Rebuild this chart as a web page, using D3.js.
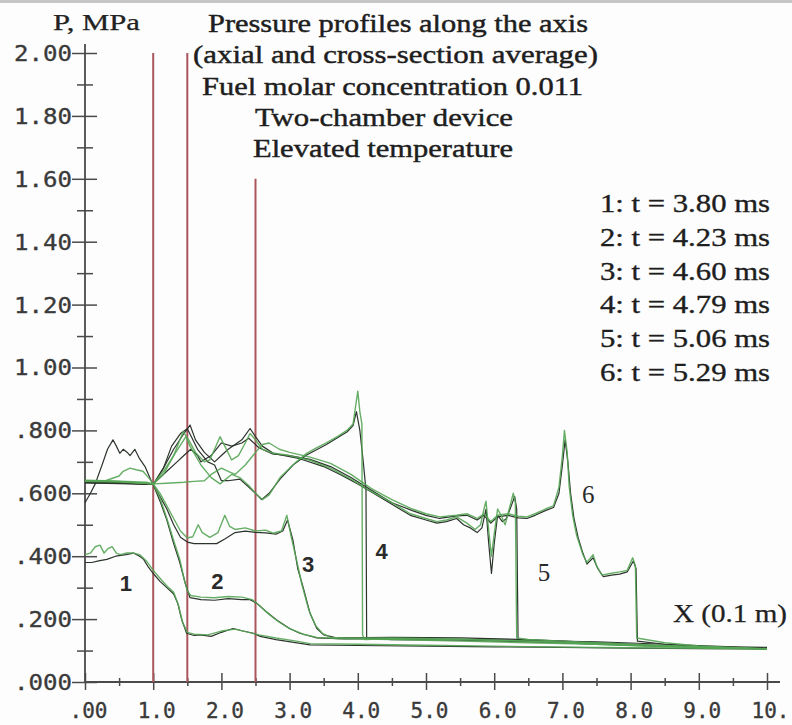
<!DOCTYPE html>
<html>
<head>
<meta charset="utf-8">
<script src="https://cdn.jsdelivr.net/npm/d3@7"></script>
<style>
  html, body { margin: 0; padding: 0; background: #fff; }
  svg { display: block; }
</style>
</head>
<body>
<svg id="chart" width="792" height="725"></svg>
<script>
// ---------- DATA ----------
const yMajor = [0, 0.2, 0.4, 0.6, 0.8, 1.0, 1.2, 1.4, 1.6, 1.8, 2.0];
const yLabels = [".000", ".200", ".400", ".600", ".800", "1.00", "1.20", "1.40", "1.60", "1.80", "2.00"];
const yMinor = [0.1, 0.3, 0.5, 0.7, 0.9, 1.1, 1.3, 1.5, 1.7, 1.9];
const xMajor = [0, 1, 2, 3, 4, 5, 6, 7, 8, 9, 10];
const xLabels = [".00", "1.0", "2.0", "3.0", "4.0", "5.0", "6.0", "7.0", "8.0", "9.0", "10."];
const xMinor = [0.5, 1.5, 2.5, 3.5, 4.5, 5.5, 6.5, 7.5, 8.5, 9.5];

const redX = [1.0, 1.5, 2.5];
const redTop = [2.0, 2.0, 1.6];

const titleLines = [
  "Pressure profiles along the axis",
  "(axial and cross-section average)",
  "Fuel molar concentration 0.011",
  "Two-chamber device",
  "Elevated temperature"
];
const legendLines = [
  "1: t = 3.80 ms",
  "2: t = 4.23 ms",
  "3: t = 4.60 ms",
  "4: t = 4.79 ms",
  "5: t = 5.06 ms",
  "6: t = 5.29 ms"
];
const curveNames = ["1", "2", "3", "4", "5", "6"];
const curveLabelPos = [[0.6, 0.29], [1.94, 0.295], [3.27, 0.35], [4.35, 0.39], [6.73, 0.32], [7.38, 0.57]];

// curve k, axial (green) and cross-section average (dark): [X, P]
const c1Axial = [[0,0.405],[0.08,0.41],[0.15,0.43],[0.22,0.435],[0.28,0.41],[0.34,0.425],[0.4,0.43],[0.46,0.41],[0.52,0.405],[0.6,0.41],[0.7,0.41],[0.8,0.405],[0.9,0.385],[1.0,0.355],[1.1,0.33],[1.2,0.305],[1.3,0.285],[1.37,0.245],[1.43,0.19],[1.5,0.158],[1.6,0.152],[1.8,0.15],[2.0,0.162],[2.2,0.168],[2.4,0.158],[2.55,0.15],[2.8,0.14],[3.1,0.13],[3.3,0.122],[4.0,0.12],[5.0,0.117],[6.0,0.114],[7.0,0.111],[8.0,0.109],[9.0,0.107],[10.0,0.105]];
const c1Avg = [[0,0.38],[0.1,0.38],[0.2,0.385],[0.32,0.39],[0.45,0.4],[0.6,0.405],[0.71,0.41],[0.8,0.4],[0.86,0.39],[0.93,0.365],[1.0,0.345],[1.1,0.32],[1.2,0.3],[1.3,0.28],[1.36,0.25],[1.42,0.197],[1.49,0.155],[1.6,0.148],[1.69,0.15],[1.85,0.145],[2.0,0.158],[2.17,0.17],[2.3,0.163],[2.47,0.155],[2.57,0.145],[2.8,0.135],[3.3,0.118],[4.0,0.116],[5.0,0.114],[6.0,0.112],[7.0,0.11],[8.0,0.108],[9.0,0.106],[10.0,0.105]];

const c2Axial = [[0,0.642],[0.3,0.64],[0.6,0.638],[0.9,0.635],[1.0,0.63],[1.1,0.585],[1.2,0.52],[1.3,0.45],[1.39,0.39],[1.45,0.33],[1.5,0.29],[1.55,0.275],[1.7,0.27],[1.9,0.268],[2.1,0.272],[2.3,0.27],[2.45,0.262],[2.55,0.245],[2.7,0.215],[2.85,0.19],[3.0,0.17],[3.2,0.152],[3.4,0.142],[3.7,0.138],[4.5,0.135],[5.5,0.13],[6.5,0.125],[7.5,0.12],[8.5,0.113],[9.5,0.108],[10,0.106]];
const c2Avg = [[0,0.635],[0.3,0.633],[0.6,0.632],[0.9,0.63],[1.0,0.628],[1.1,0.575],[1.2,0.515],[1.3,0.44],[1.39,0.38],[1.47,0.314],[1.54,0.268],[1.7,0.262],[1.9,0.26],[2.1,0.265],[2.3,0.262],[2.42,0.262],[2.52,0.25],[2.65,0.225],[2.81,0.197],[3.0,0.17],[3.15,0.155],[3.4,0.14],[3.8,0.137],[4.5,0.138],[5.5,0.136],[6.5,0.132],[7.5,0.128],[8.5,0.12],[9.5,0.112],[10,0.11]];

const c3Axial = [[0,0.64],[0.5,0.638],[1.0,0.63],[1.1,0.6],[1.2,0.56],[1.3,0.52],[1.4,0.48],[1.5,0.458],[1.58,0.462],[1.66,0.5],[1.72,0.475],[1.83,0.46],[1.95,0.475],[2.05,0.53],[2.12,0.495],[2.2,0.485],[2.35,0.49],[2.5,0.48],[2.65,0.483],[2.76,0.473],[2.88,0.48],[2.96,0.53],[3.03,0.455],[3.1,0.39],[3.18,0.31],[3.28,0.23],[3.38,0.18],[3.48,0.155],[3.6,0.142],[3.8,0.14],[4.5,0.14],[5.5,0.136],[6.5,0.13],[7.5,0.12],[8.5,0.112],[9.5,0.107],[10,0.105]];
const c3Avg = [[0,0.633],[0.5,0.631],[1.0,0.628],[1.1,0.59],[1.2,0.55],[1.3,0.5],[1.4,0.46],[1.5,0.445],[1.6,0.44],[1.75,0.44],[1.93,0.44],[2.05,0.455],[2.2,0.475],[2.35,0.48],[2.5,0.476],[2.65,0.474],[2.8,0.47],[2.9,0.48],[2.97,0.515],[3.05,0.45],[3.12,0.36],[3.2,0.3],[3.3,0.218],[3.4,0.17],[3.5,0.15],[3.7,0.14],[4.5,0.142],[5.5,0.14],[6.5,0.135],[7.5,0.125],[8.5,0.115],[9.5,0.11],[10,0.108]];

const c4Axial = [[0,0.64],[0.5,0.637],[1.0,0.63],[1.15,0.67],[1.3,0.72],[1.48,0.78],[1.54,0.75],[1.7,0.69],[1.85,0.65],[1.98,0.63],[2.15,0.66],[2.27,0.65],[2.4,0.625],[2.5,0.6],[2.6,0.58],[2.7,0.595],[2.86,0.65],[3.0,0.68],[3.1,0.7],[3.25,0.727],[3.4,0.745],[3.54,0.76],[3.7,0.78],[3.84,0.80],[3.93,0.82],[3.97,0.88],[4.0,0.925],[4.03,0.86],[4.06,0.82],[4.07,0.15],[4.1,0.135],[4.5,0.138],[5.5,0.135],[6.5,0.13],[7.5,0.122],[8.5,0.115],[9.5,0.108],[10,0.105]];
const c4Avg = [[0,0.634],[0.5,0.632],[1.0,0.628],[1.15,0.68],[1.27,0.75],[1.4,0.79],[1.5,0.805],[1.56,0.78],[1.65,0.74],[1.8,0.70],[1.9,0.69],[2.0,0.64],[2.1,0.64],[2.27,0.645],[2.4,0.62],[2.5,0.6],[2.59,0.58],[2.7,0.6],[2.86,0.645],[3.05,0.69],[3.25,0.722],[3.54,0.755],[3.84,0.795],[3.93,0.815],[3.98,0.86],[4.03,0.8],[4.08,0.7],[4.12,0.61],[4.13,0.14],[4.5,0.135],[5.5,0.133],[6.5,0.128],[7.5,0.12],[8.5,0.114],[9.5,0.108],[10,0.106]];

const c5Axial = [[0,0.638],[0.5,0.636],[1.0,0.63],[1.15,0.66],[1.3,0.72],[1.44,0.796],[1.52,0.77],[1.62,0.73],[1.75,0.70],[1.83,0.706],[1.9,0.74],[1.98,0.78],[2.05,0.75],[2.15,0.706],[2.25,0.72],[2.35,0.76],[2.42,0.79],[2.5,0.77],[2.6,0.74],[2.75,0.728],[3.0,0.72],[3.3,0.705],[3.6,0.68],[3.9,0.645],[4.2,0.605],[4.5,0.57],[4.77,0.535],[5.0,0.52],[5.16,0.51],[5.3,0.515],[5.45,0.525],[5.6,0.505],[5.72,0.485],[5.8,0.5],[5.85,0.55],[5.88,0.575],[5.92,0.48],[5.96,0.40],[6.0,0.47],[6.05,0.55],[6.1,0.53],[6.16,0.50],[6.22,0.55],[6.28,0.6],[6.31,0.57],[6.33,0.14],[6.5,0.135],[7,0.13],[7.5,0.125],[8,0.12],[9,0.112],[10,0.106]];
const c5Avg = [[0,0.636],[0.5,0.634],[1.0,0.628],[1.15,0.68],[1.3,0.74],[1.45,0.79],[1.54,0.817],[1.62,0.77],[1.75,0.73],[1.9,0.70],[2.0,0.72],[2.1,0.74],[2.3,0.77],[2.42,0.806],[2.5,0.78],[2.6,0.75],[2.76,0.727],[3.15,0.71],[3.5,0.685],[3.74,0.66],[4.0,0.63],[4.23,0.60],[4.5,0.565],[4.77,0.53],[5.0,0.515],[5.16,0.505],[5.3,0.51],[5.45,0.52],[5.55,0.5],[5.65,0.49],[5.75,0.475],[5.82,0.49],[5.88,0.55],[5.92,0.44],[5.96,0.345],[6.0,0.44],[6.05,0.53],[6.12,0.51],[6.18,0.52],[6.25,0.56],[6.3,0.59],[6.33,0.55],[6.35,0.13],[6.5,0.128],[7,0.125],[8,0.118],[9,0.112],[10,0.108]];

const c6Axial = [[0,0.64],[0.3,0.64],[0.5,0.655],[0.56,0.67],[0.66,0.68],[0.75,0.675],[0.85,0.67],[0.95,0.645],[1.0,0.63],[1.2,0.632],[1.45,0.635],[1.6,0.638],[1.75,0.64],[1.85,0.66],[2.0,0.68],[2.1,0.67],[2.2,0.66],[2.35,0.69],[2.5,0.73],[2.6,0.755],[2.7,0.76],[2.85,0.74],[3.0,0.73],[3.3,0.715],[3.6,0.695],[3.9,0.66],[4.2,0.615],[4.5,0.58],[4.8,0.55],[5.0,0.535],[5.2,0.525],[5.45,0.53],[5.6,0.535],[5.75,0.52],[5.85,0.535],[5.95,0.51],[6.05,0.53],[6.2,0.535],[6.35,0.527],[6.48,0.525],[6.6,0.535],[6.75,0.55],[6.87,0.56],[6.95,0.62],[7.0,0.72],[7.03,0.8],[7.07,0.73],[7.1,0.62],[7.15,0.53],[7.21,0.465],[7.3,0.405],[7.36,0.38],[7.45,0.405],[7.5,0.37],[7.58,0.34],[7.7,0.345],[7.84,0.35],[7.95,0.355],[8.03,0.395],[8.07,0.37],[8.09,0.14],[8.5,0.125],[9,0.115],[10,0.105]];
const c6Avg = [[0,0.57],[0.08,0.6],[0.15,0.63],[0.25,0.69],[0.33,0.74],[0.41,0.77],[0.46,0.75],[0.51,0.727],[0.56,0.74],[0.62,0.73],[0.66,0.72],[0.73,0.74],[0.8,0.71],[0.88,0.685],[0.98,0.635],[1.0,0.63],[1.2,0.67],[1.35,0.7],[1.45,0.72],[1.55,0.74],[1.65,0.72],[1.7,0.70],[1.85,0.72],[2.0,0.76],[2.15,0.75],[2.3,0.76],[2.4,0.775],[2.55,0.745],[2.75,0.725],[3.0,0.72],[3.3,0.708],[3.6,0.685],[3.9,0.65],[4.2,0.61],[4.5,0.57],[4.8,0.545],[5.0,0.53],[5.2,0.52],[5.45,0.528],[5.6,0.53],[5.75,0.515],[5.85,0.53],[5.95,0.505],[6.05,0.525],[6.2,0.53],[6.35,0.522],[6.48,0.52],[6.6,0.53],[6.75,0.545],[6.87,0.555],[6.95,0.6],[7.0,0.69],[7.04,0.77],[7.08,0.7],[7.12,0.6],[7.17,0.52],[7.23,0.46],[7.3,0.41],[7.36,0.375],[7.45,0.395],[7.52,0.36],[7.6,0.335],[7.72,0.34],[7.84,0.343],[7.95,0.35],[8.04,0.385],[8.08,0.36],[8.1,0.13],[8.5,0.12],[9,0.112],[10,0.108]];

const axialSeries = [c1Axial, c2Axial, c3Axial, c4Axial, c5Axial, c6Axial];
const avgSeries = [c1Avg, c2Avg, c3Avg, c4Avg, c5Avg, c6Avg];

// ---------- DRAW ----------
const svg = d3.select("#chart");
const x = d3.scaleLinear().domain([0, 10]).range([85, 767]);
const y = d3.scaleLinear().domain([0, 2]).range([682, 53]);

svg.append("rect").attr("width", 792).attr("height", 725).attr("fill", "#fdfdfd");
svg.append("rect").attr("width", 792).attr("height", 3).attr("fill", "#c6c6c6");

const axisColor = "#4a4a4a";
const monoFont = "'DejaVu Sans Mono', monospace";
const serifFont = "'Liberation Serif', 'Times New Roman', serif";

// y axis (left ticks with labels + right half of ticks)
const gy = svg.append("g").attr("transform", `translate(${x(0)},0)`);
gy.call(d3.axisLeft(y).tickValues(yMajor).tickSize(13).tickPadding(0)
  .tickFormat((d, i) => yLabels[i]));
gy.select(".domain").remove();
gy.selectAll(".tick line").attr("x1", 12).attr("stroke", axisColor).attr("stroke-width", 1.5);
gy.selectAll(".tick text")
  .attr("font-family", monoFont).attr("font-size", 22).attr("fill", "#3a3a3a")
  .attr("stroke", "#3a3a3a").attr("stroke-width", 0.35)
  .attr("dy", "0.34em")
  .attr("textLength", 58).attr("lengthAdjust", "spacingAndGlyphs");
const gyMinor = svg.append("g").attr("transform", `translate(${x(0)},0)`);
gyMinor.call(d3.axisLeft(y).tickValues(yMinor).tickSize(8).tickFormat(""));
gyMinor.select(".domain").remove();
gyMinor.selectAll(".tick line").attr("x1", 8).attr("stroke", axisColor).attr("stroke-width", 1.5);

// x axis
const gx = svg.append("g").attr("transform", `translate(0,${y(0)})`);
gx.call(d3.axisBottom(x).tickValues(xMajor).tickSize(8).tickPadding(0).tickFormat((d, i) => xLabels[i]));
gx.select(".domain").remove();
gx.selectAll(".tick line").attr("y1", -9).attr("stroke", axisColor).attr("stroke-width", 1.5);
gx.selectAll(".tick text")
  .attr("font-family", monoFont).attr("font-size", 21).attr("fill", "#3a3a3a")
  .attr("stroke", "#3a3a3a").attr("stroke-width", 0.35)
  .attr("y", 36).attr("dy", 0).attr("dx", 3);
const gxMinor = svg.append("g").attr("transform", `translate(0,${y(0)})`);
gxMinor.call(d3.axisBottom(x).tickValues(xMinor).tickSize(4).tickFormat(""));
gxMinor.select(".domain").remove();
gxMinor.selectAll(".tick line").attr("y1", -4).attr("stroke", axisColor).attr("stroke-width", 1.5);

// axis lines
svg.append("line").attr("x1", x(0)).attr("x2", x(0)).attr("y1", y(2) - 9).attr("y2", y(0))
  .attr("stroke", axisColor).attr("stroke-width", 1.8);
svg.append("line").attr("x1", x(0)).attr("x2", x(10) + 13).attr("y1", y(0)).attr("y2", y(0))
  .attr("stroke", axisColor).attr("stroke-width", 1.8);

// red vertical lines
svg.selectAll(".redline").data(redX).enter().append("line")
  .attr("class", "redline")
  .attr("x1", d => x(d)).attr("x2", d => x(d))
  .attr("y1", (d, i) => y(redTop[i])).attr("y2", y(0))
  .attr("stroke", "#a9565c").attr("stroke-width", 2);

// profiles
const line = d3.line().x(d => x(d[0])).y(d => y(d[1]));
svg.append("g").selectAll("path").data(avgSeries).enter().append("path")
  .attr("d", line).attr("fill", "none")
  .attr("stroke", "#2c342c").attr("stroke-width", 1.2).attr("stroke-linejoin", "round");
svg.append("g").selectAll("path").data(axialSeries).enter().append("path")
  .attr("d", line).attr("fill", "none")
  .attr("stroke", "#55a555").attr("stroke-width", 1.4).attr("stroke-opacity", 0.9)
  .attr("stroke-linejoin", "round");

// curve labels
svg.selectAll(".clabel").data(curveNames).enter().append("text")
  .attr("class", "clabel")
  .attr("x", (d, i) => x(curveLabelPos[i][0]))
  .attr("y", (d, i) => y(curveLabelPos[i][1]))
  .attr("text-anchor", "middle")
  .attr("font-family", (d, i) => i < 4 ? "'Liberation Sans', Arial, sans-serif" : serifFont)
  .attr("font-size", (d, i) => i < 4 ? 22 : 25)
  .attr("font-weight", (d, i) => i < 4 ? "bold" : "normal")
  .attr("fill", "#2a2a2a")
  .text(d => d);

// y axis title
svg.append("text").attr("x", 53).attr("y", 30)
  .attr("font-family", serifFont).attr("font-size", 23).attr("fill", "#222")
  .attr("stroke", "#222").attr("stroke-width", 0.25)
  .attr("textLength", 87).attr("lengthAdjust", "spacingAndGlyphs")
  .text("P, MPa");

// x axis title
svg.append("text").attr("x", 673).attr("y", 622)
  .attr("font-family", serifFont).attr("font-size", 25).attr("fill", "#222")
  .attr("stroke", "#222").attr("stroke-width", 0.25)
  .attr("textLength", 114).attr("lengthAdjust", "spacingAndGlyphs")
  .text("X (0.1 m)");

// title block
const titleX = [208, 193, 202, 255, 253];
const titleW = [380, 405, 381, 258, 260];
svg.selectAll(".title").data(titleLines).enter().append("text")
  .attr("class", "title")
  .attr("x", (d, i) => titleX[i]).attr("y", (d, i) => 32 + i * 31.3)
  .attr("font-family", serifFont).attr("font-size", 26).attr("fill", "#1e1e1e")
  .attr("stroke", "#1e1e1e").attr("stroke-width", 0.45)
  .attr("textLength", (d, i) => titleW[i]).attr("lengthAdjust", "spacingAndGlyphs")
  .text(d => d);

// legend block
svg.selectAll(".legend").data(legendLines).enter().append("text")
  .attr("class", "legend")
  .attr("x", 600).attr("y", (d, i) => 212 + i * 33.8)
  .attr("font-family", serifFont).attr("font-size", 25).attr("fill", "#1e1e1e")
  .attr("stroke", "#1e1e1e").attr("stroke-width", 0.35)
  .attr("textLength", 170).attr("lengthAdjust", "spacingAndGlyphs")
  .text(d => d);
</script>
</body>
</html>
